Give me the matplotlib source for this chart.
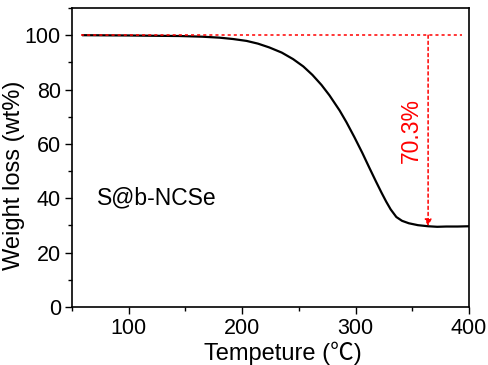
import matplotlib
matplotlib.use("Agg")
import matplotlib.pyplot as plt
from matplotlib.ticker import MultipleLocator

plt.rcParams['font.family'] = ['Liberation Sans', 'Noto Sans CJK SC', 'DejaVu Sans']

# TGA curve of S@b-NCSe
temperature = [60, 80, 100, 120, 145, 165, 180, 192, 204, 214, 224, 235, 245, 254,
               262, 270, 277, 286, 292, 299, 306, 312, 318, 323, 327, 331, 336,
               341, 347, 355, 364, 372, 380, 390, 400]
weight = [100.0, 99.95, 99.9, 99.8, 99.7, 99.45, 99.1, 98.6, 97.9, 96.9, 95.5,
          93.6, 91.2, 88.5, 85.4, 81.7, 77.9, 72.3, 68.0, 62.5, 56.7, 51.4, 46.2,
          42.0, 38.8, 35.9, 33.1, 31.7, 30.8, 30.1, 29.7, 29.5, 29.6, 29.6, 29.7]

loss_label = "70.3%"
loss_temp = 364
loss_start = 100.0
loss_end = 29.7

fig = plt.figure(figsize=(4.89, 3.65), dpi=100)
ax = fig.add_axes([0.147, 0.159, 0.812, 0.819])

ax.plot(temperature, weight, color='black', lw=1.6, zorder=3,
        solid_joinstyle='round')

# reference line at 100 % and the arrow marking the loss
ax.plot([58, 394], [loss_start, loss_start], color='red', lw=1.1,
        ls=(0, (2, 2)), zorder=4)
ax.annotate('', xy=(loss_temp, loss_end), xytext=(loss_temp, loss_start),
            arrowprops=dict(arrowstyle='-|>', color='red', lw=1.1,
                            linestyle=(0, (2, 2)), mutation_scale=10,
                            shrinkA=0, shrinkB=0))
ax.text(349, 65, loss_label, color='red', fontsize=16.5, rotation=90,
        ha='center', va='center')
ax.text(72, 40, "S@b-NCSe", fontsize=16.5, ha='left', va='center')

ax.set_xlim(50, 400)
ax.set_ylim(0, 110)
ax.xaxis.set_major_locator(MultipleLocator(100))
ax.xaxis.set_minor_locator(MultipleLocator(50))
ax.yaxis.set_major_locator(MultipleLocator(20))
ax.yaxis.set_minor_locator(MultipleLocator(10))
ax.tick_params(which='both', direction='out', top=False, right=False,
               labelsize=15.5, width=1)
ax.tick_params(which='major', length=5, pad=3)
ax.tick_params(which='minor', length=3)
for s in ax.spines.values():
    s.set_linewidth(1.2)

ax.set_xlabel("Tempeture (\u2103)", fontsize=17)
ax.set_ylabel("Weight loss (wt%)", fontsize=17)
ax.xaxis.set_label_coords(0.531, -0.115)
ax.yaxis.set_label_coords(-0.118, 0.44)

fig.savefig("out.png", dpi=100)
